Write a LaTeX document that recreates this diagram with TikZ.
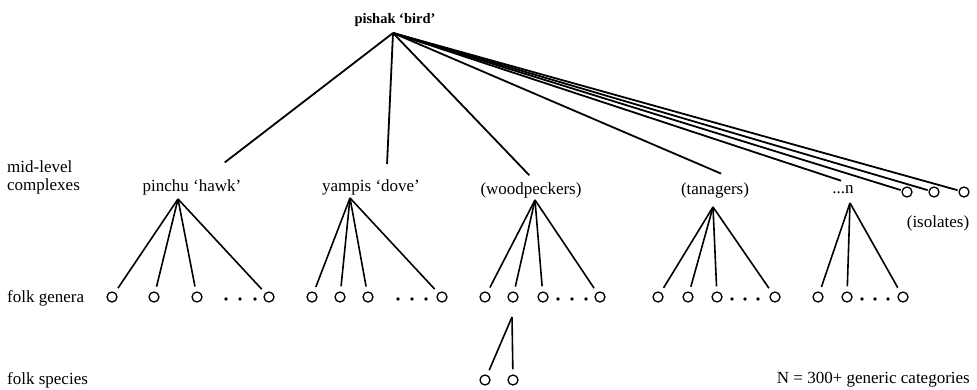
\documentclass[tikz,border=0pt]{standalone}
\usepackage{fontspec}
\setmainfont{Liberation Serif}
\usetikzlibrary{positioning}
\tikzset{
    auto,semithick,
    taxon/.style ={inner sep=1pt,font=\fontsize{17}{18}\selectfont},
    rowlabel/.style={taxon,anchor=west,align=left},
    gen/.style = {circle,draw,line width=1.3pt,minimum size=10pt,inner sep=0pt},
    branch/.style={line width=1.8pt,shorten >=1pt},
    twig/.style={line width=1.6pt,shorten >=5pt}
}

\begin{document}
\begin{tikzpicture}[x=1pt,y=-1pt]
	\useasboundingbox (0,0) rectangle (977,389);
	% level labels
	\node[rowlabel] (L1) at (6,177) {mid-level\\complexes};
	\node[rowlabel] (L2) at (6,298) {folk genera};
	\node[rowlabel] (L3) at (6,380) {folk species};

	% root
	\node[taxon,font=\bfseries\fontsize{14.5}{17}\selectfont] (0) at (395,20) {pishak `bird'};
	\coordinate (0a) at (393,33);

	% mid-level complexes
	\node[taxon] (1) at (192,187) {pinchu `hawk'};
	\node[taxon] (2) at (371,187) {yampis `dove'};
	\node[taxon] (3) at (531,190) {(woodpeckers)};
	\node[taxon] (4) at (715,190) {(tanagers)};
	\node[taxon] (5) at (843,190) {...n};
	\coordinate (1t) at (224,163);
	\coordinate (2t) at (387,165);
	\coordinate (3t) at (530,176);
	\coordinate (4t) at (722,174);
	\coordinate (5t) at (842,181);

	% isolates
	\node[gen] (6) at (907,192) {};
	\node[gen] (7) at (934,192) {};
	\node[gen] (8) at (964,192) {};
	\node[taxon] (iso) at (938,223) {(isolates)};

	\foreach \j in {1t,2t,3t,4t,5t,6,7,8}
		\path[branch] (0a) edge (\j);

	% folk genera
	\coordinate (1a) at (178,199);
	\coordinate (2a) at (350,198);
	\coordinate (3a) at (535,200);
	\coordinate (4a) at (713,207);
	\coordinate (5a) at (850,203);
	\foreach \x [count=\i] in {112,154,197,269} \node[gen] (1-\i) at (\x,297) {};
	\foreach \x [count=\i] in {312,340,368,442} \node[gen] (2-\i) at (\x,297) {};
	\foreach \x [count=\i] in {485,513,543,600} \node[gen] (3-\i) at (\x,297) {};
	\foreach \x [count=\i] in {658,688,717,775} \node[gen] (4-\i) at (\x,297) {};
	\foreach \x [count=\i] in {818,847,903} \node[gen] (5-\i) at (\x,297) {};
	\foreach \k in {1,2,3,4} {
		\foreach \i in {1,...,4} \path[twig] (\k a) edge (\k-\i);
	}
	\foreach \i in {1,2,3} \path[twig] (5a) edge (5-\i);
	% dots
	\foreach \x in {226,240,255,398,412,426,558,572,586,732,745,758,862,875,888}
		\fill (\x,299) circle (1.8pt);

	% folk species
	\coordinate (3s) at (512,317);
	\node[gen] (s1) at (485,380) {};
	\node[gen] (s2) at (513,380) {};
	\path[twig] (3s) edge (s1);
	\path[twig] (3s) edge (s2);

	\node[taxon,anchor=east] (N) at (971,380) {N = 300+ generic categories};
\end{tikzpicture}
\end{document}
